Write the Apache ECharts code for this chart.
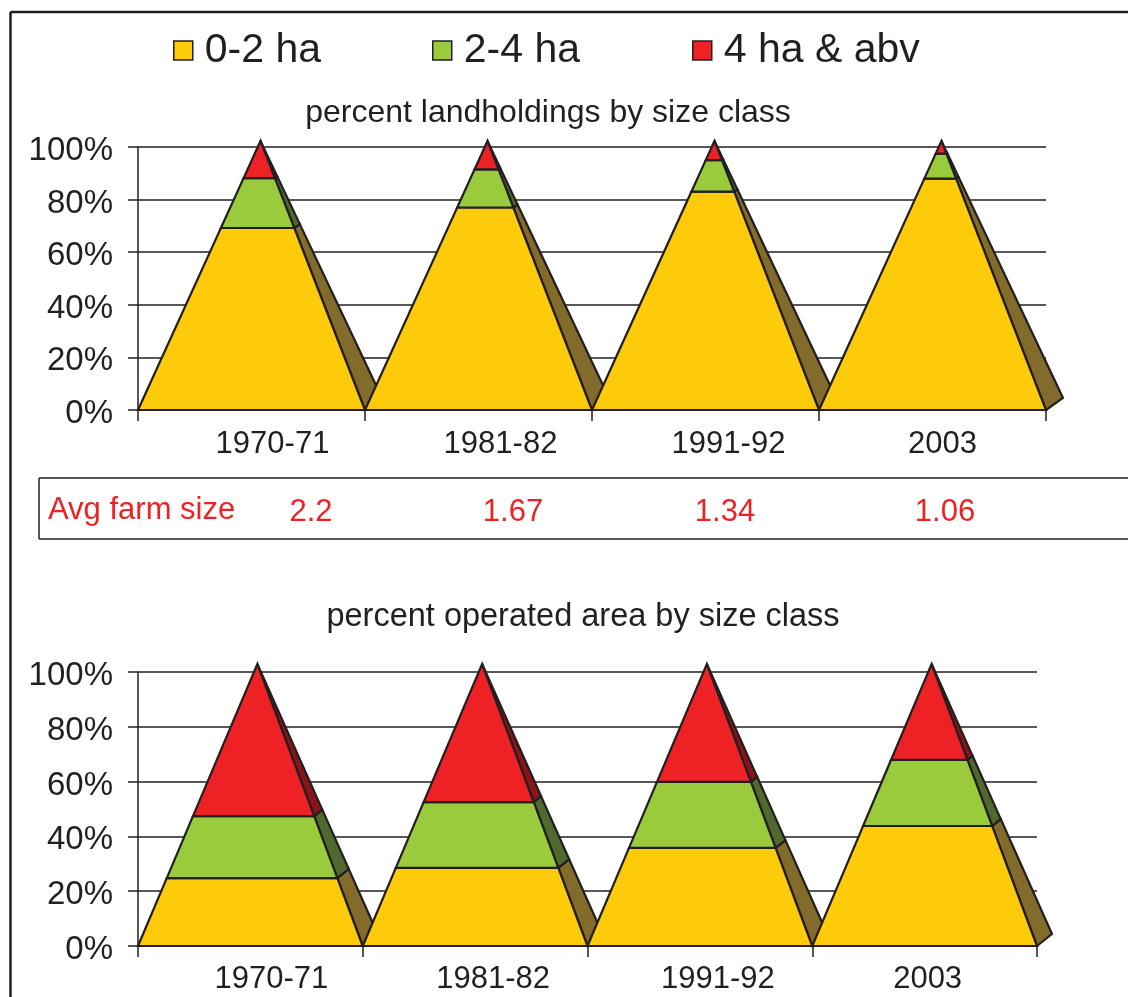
<!DOCTYPE html>
<html><head><meta charset="utf-8">
<style>html,body{margin:0;padding:0;background:#fff}#c{width:1128px;height:997px}</style>
<script src="https://cdn.jsdelivr.net/npm/echarts@6/dist/echarts.min.js"></script>
</head><body><div id="c"></div>
<script>
const categories = ['1970-71','1981-82','1991-92','2003'];
const classNames = ['0-2 ha','2-4 ha','4 ha & abv'];
const yTicks = ['0%','20%','40%','60%','80%','100%'];
// percent landholdings by size class
const holdSmall = [69.2, 77, 83, 88];
const holdMid   = [19, 14.5, 12, 9.5];
const holdLarge = [11.8, 8.5, 5, 2.5];
// percent operated area by size class
const areaSmall = [24.8, 28.5, 35.8, 43.8];
const areaMid   = [22.6, 24, 24.1, 24.1];
const areaLarge = [52.6, 47.5, 40.1, 32.1];
const avgFarmSize = ['2.2','1.67','1.34','1.06'];

const avgX = [311, 513, 725, 945];
const shiftTop = [42, 44, 46, 20];
const shiftBottom = [42, 36, 36, 6];
const INK = '#231F20', RED = '#EE2224';
const FONT = '"Liberation Sans", Arial, sans-serif';
const front = ['#FDCB0A','#99CB3C','#EE2224'];
const side  = ['#826B2B','#4F692E','#8B131A'];

function makeRender(cls, e, apexDx, ox, oy) {
  return function (params, api) {
    const i = api.value(0), lo = api.value(1), hi = api.value(2);
    const vTop = hi >= 99.99 ? 100 + e : hi;
    const base = api.coord([i, 0]);
    const bw = api.size([1, 0])[0];
    const bl = base[0] - bw / 2, br = base[0] + bw / 2, ax = base[0] + apexDx;
    const pt = v => {
      const t = v / (100 + e), y = api.coord([i, v])[1];
      return {y, l: bl + (ax - bl) * t, r: br + (ax - br) * t, bx: br + (ax - br) * t + ox * (1 - t), by: y + oy * (1 - t)};
    };
    const a = pt(lo), b = pt(vTop);
    const style = f => ({fill: f, stroke: INK, lineWidth: 2.2, lineJoin: 'miter'});
    return {type: 'group', children: [
      {type: 'polygon', z2: i * 10, shape: {points: [[a.r, a.y], [a.bx, a.by], [b.bx, b.by], [b.r, b.y]]}, style: style(side[cls])},
      {type: 'polygon', z2: i * 10 + 1, shape: {points: [[a.l, a.y], [a.r, a.y], [b.r, b.y], [b.l, b.y]]}, style: style(front[cls])}
    ]};
  };
}
function buildSeries(arrs, axisIdx, e, apexDx, ox, oy) {
  const cum = categories.map(() => 0);
  return arrs.map((vals, cls) => {
    const data = vals.map((v, i) => { const lo = cum[i]; cum[i] += v; return [i, lo, cum[i]]; });
    return {type: 'custom', name: classNames[cls], xAxisIndex: axisIdx, yAxisIndex: axisIdx, clip: false,
      coordinateSystem: 'cartesian2d', itemStyle: {color: front[cls]}, encode: {x: 0, y: [1, 2]}, silent: true,
      renderItem: makeRender(cls, e, apexDx, ox, oy), data};
  });
}
function xAxis(gridIndex, shifts, margin) {
  const rich = {};
  shifts.forEach((s, i) => rich['s' + i] = {fontSize: 31, fontFamily: FONT, color: INK, padding: [0, 0, 0, s]});
  return {type: 'category', gridIndex, data: categories,
    axisLine: {lineStyle: {color: INK, width: 2}}, axisTick: {show: true, length: 11, alignWithLabel: false, lineStyle: {color: INK, width: 1.5}},
    axisLabel: {interval: 0, margin, formatter: (v, i) => '{s' + i + '|' + v + '}', rich}, splitLine: {show: false}};
}
function yAxis(gridIndex) {
  return {type: 'value', gridIndex, min: 0, max: 100, interval: 20,
    axisLine: {show: true, lineStyle: {color: INK, width: 1.5}}, axisTick: {show: true, length: 10, lineStyle: {color: INK, width: 1.5}},
    axisLabel: {margin: 25, formatter: v => '{t|' + yTicks[v / 20] + '}',
      rich: {t: {fontSize: 33, fontFamily: FONT, color: INK, padding: [8, 0, 0, 0]}}},
    splitLine: {show: true, lineStyle: {color: INK, width: 1.5}}};
}
function legend(name, left) {
  return {data: [name], left, top: 25, orient: 'horizontal', selectedMode: false, icon: 'rect', itemWidth: 19, itemHeight: 19,
    itemStyle: {borderColor: INK, borderWidth: 1.5},
    textStyle: {fontSize: 41, fontFamily: FONT, color: INK, padding: [0, 0, 0, 7]}};
}
function txt(text, x, y, size, fill, align) {
  return {type: 'text', x, y, silent: true, style: {text, fontSize: size, fontFamily: FONT, fill, align: align || 'center', verticalAlign: 'middle'}};
}
function line(x1, y1, x2, y2, w) {
  return {type: 'line', silent: true, shape: {x1, y1, x2, y2}, style: {stroke: INK, lineWidth: w}};
}
const chart = echarts.init(document.getElementById('c'), null, {renderer: 'canvas'});
chart.setOption({
  animation: false, backgroundColor: '#fff',
  title: [
    {text: 'percent landholdings by size class', left: 543, top: 92, textAlign: 'center', textStyle: {fontSize: 32, fontWeight: 'normal', fontFamily: FONT, color: INK}},
    {text: 'percent operated area by size class', left: 578, top: 596, textAlign: 'center', textStyle: {fontSize: 32.5, fontWeight: 'normal', fontFamily: FONT, color: INK}}
  ],
  legend: [legend(classNames[0], 168), legend(classNames[1], 427), legend(classNames[2], 687)],
  grid: [{left: 138, top: 147, width: 908, height: 263}, {left: 138, top: 672, width: 899, height: 274}],
  xAxis: [xAxis(0, shiftTop, 19), xAxis(1, shiftBottom, 18)],
  yAxis: [yAxis(0), yAxis(1)],
  series: [
    ...buildSeries([holdSmall, holdMid, holdLarge], 0, 2.3, 9, 17, -12),
    ...buildSeries([areaSmall, areaMid, areaLarge], 1, 2.9, 7, 15, -12)
  ],
  graphic: [
    line(10.5, 12, 1128, 12, 2.5), line(10.5, 12, 10.5, 997, 2.5),
    line(39, 478, 1128, 478, 1.5), line(39, 539, 1128, 539, 1.5), line(39, 478, 39, 539, 1.5),
    txt('Avg farm size', 48, 510, 31, RED, 'left'),
    ...avgFarmSize.map((v, i) => txt(v, avgX[i], 512, 31, RED))
  ]
});
</script></body></html>
